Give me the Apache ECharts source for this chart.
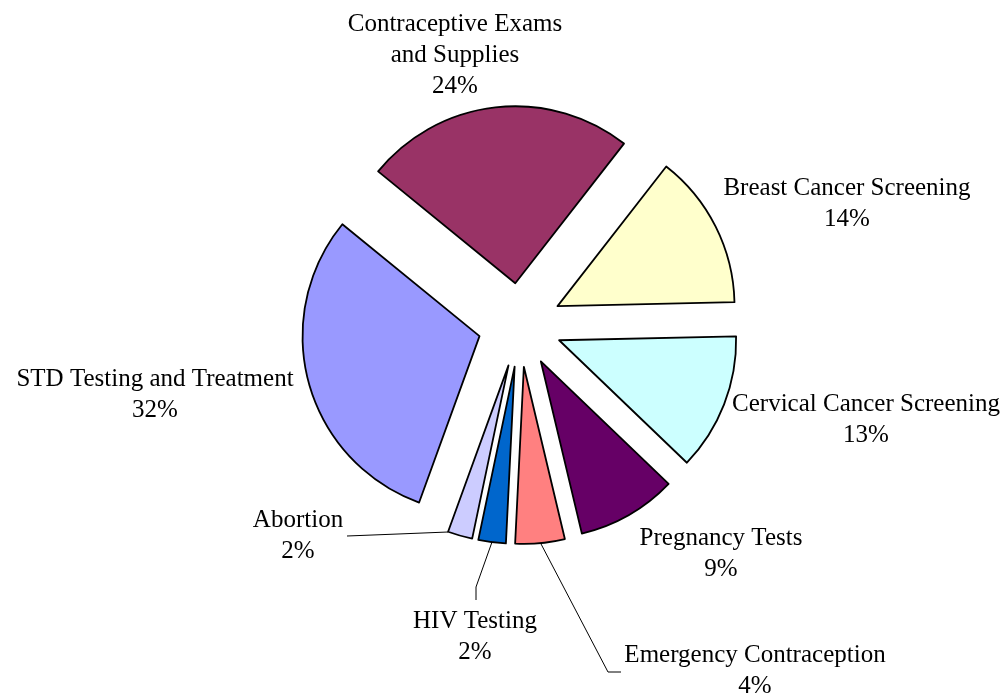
<!DOCTYPE html>
<html>
<head>
<meta charset="utf-8">
<script src="https://cdn.jsdelivr.net/npm/echarts@6/dist/echarts.min.js"></script>
<style>
  html, body { margin: 0; padding: 0; background: #fff; }
  #chart { width: 1004px; height: 698px; }
</style>
</head>
<body>
<div id="chart"></div>
<script>
// slices in clockwise order, starting with the top one
const categories = [
  'Contraceptive Exams\nand Supplies',
  'Breast Cancer Screening',
  'Cervical Cancer Screening',
  'Pregnancy Tests',
  'Emergency Contraception',
  'HIV Testing',
  'Abortion',
  'STD Testing and Treatment'
]
const sliceSizes = [24.6, 14.1, 12.5, 9.1, 4.5, 2.5, 2.25, 30.3]
// percentages as printed on the labels
const labelPercents = [24, 14, 13, 9, 4, 2, 2, 32]
const colors = ['#993366', '#ffffcc', '#ccffff', '#660066', '#ff8080', '#0066cc', '#ccccff', '#9999ff']

// label centres and leader lines (page pixels)
const labelPos = [
  [455, 55], [847, 204], [866, 420], [721, 554],
  [755, 671], [475, 637], [298, 536], [155, 395]
]
const leaders = {
  4: [[540, 542], [608, 672], [621, 672]],
  5: [[492, 542], [476, 587], [476, 600]],
  6: [[448, 532], [398, 534], [347, 536]]
}

const chart = echarts.init(document.getElementById('chart'))

const border = { borderColor: '#000', borderWidth: 1.8 }
const pieBase = {
  type: 'pie',
  center: [520, 325],
  radius: 177,
  startAngle: 140.8,
  clockwise: true,
  avoidLabelOverlap: false,
  emphasis: { disabled: true }
}

chart.setOption({
  animation: false,
  backgroundColor: '#fff',
  series: [
    // exploded slices
    Object.assign({}, pieBase, {
      selectedMode: 'multiple',
      selectedOffset: 42,
      itemStyle: border,
      select: { itemStyle: border },
      label: { show: false },
      labelLine: { show: false },
      data: categories.map((name, i) => ({
        name: name,
        value: sliceSizes[i],
        selected: true,
        itemStyle: { color: colors[i] }
      }))
    }),
    // same pie, unexploded and invisible, carrying the labels
    Object.assign({}, pieBase, {
      silent: true,
      itemStyle: { color: 'rgba(0,0,0,0)', borderWidth: 0 },
      label: {
        show: true,
        position: 'outside',
        formatter: p => p.name + '\n' + labelPercents[p.dataIndex] + '%',
        fontFamily: 'Liberation Serif',
        fontSize: 25,
        lineHeight: 31,
        color: '#000'
      },
      labelLine: {
        show: false,
        lineStyle: { color: '#000', width: 1 }
      },
      labelLayout: function (p) {
        const pos = labelPos[p.dataIndex]
        const out = { x: pos[0], y: pos[1], align: 'center', verticalAlign: 'middle' }
        if (leaders[p.dataIndex]) out.labelLinePoints = leaders[p.dataIndex]
        return out
      },
      data: categories.map((name, i) => ({
        name: name,
        value: sliceSizes[i],
        labelLine: { show: !!leaders[i] }
      }))
    })
  ]
})
</script>
</body>
</html>
